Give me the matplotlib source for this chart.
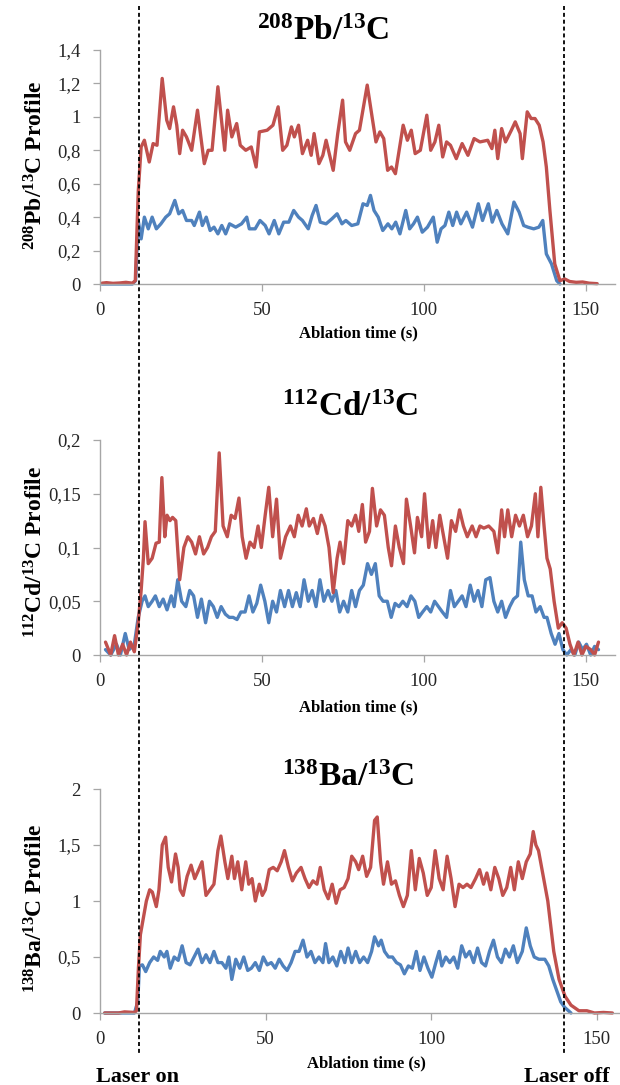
import matplotlib
matplotlib.use('Agg')
import matplotlib.pyplot as plt
from matplotlib.lines import Line2D

plt.rcParams['font.family'] = ['Liberation Serif', 'DejaVu Serif']
plt.rcParams['mathtext.fontset'] = 'custom'
plt.rcParams['mathtext.rm'] = 'Liberation Serif:bold'
plt.rcParams['mathtext.it'] = 'Liberation Serif:italic:bold'
plt.rcParams['mathtext.bf'] = 'Liberation Serif:bold'

# ---------------- data (time s, ratio) ----------------
pb_red = [(0.6,0.005),(2,0.008),(4,0.004),(6,0.006),(8,0.01),(10,0.005),(10.9,0.02),(11.8,0.55),(12.7,0.82),
          (13.7,0.86),(15.2,0.73),(16.4,0.84),(17.6,0.83),(19.2,1.23),(20.6,0.98),(21.5,0.93),(22.7,1.06),
          (23.7,0.95),(24.6,0.78),(25.5,0.92),(26.7,0.88),(28.3,0.80),(30.1,1.04),(31.0,0.90),(32.2,0.72),
          (33.4,0.80),(34.6,0.80),(36.4,1.18),(37.4,1.00),(38.5,0.80),(39.4,1.04),(40.7,0.88),(42.2,0.96),
          (43.3,0.83),(45.0,0.80),(46.7,0.82),(48.2,0.70),(49.2,0.91),(51.6,0.92),(53.4,0.95),(55.0,1.06),
          (56.4,0.80),(57.7,0.83),(59.1,0.94),(60.0,0.88),(61.3,0.95),(62.5,0.78),(64.1,0.86),(65.2,0.77),
          (66.1,0.90),(67.6,0.72),(68.8,0.77),(69.8,0.86),(72.0,0.68),(73.4,0.90),(74.9,1.10),(75.8,0.85),
          (77.1,0.80),(78.9,0.90),(80.1,0.92),(82.5,1.19),(84.0,1.00),(85.2,0.85),(86.4,0.91),(87.6,0.87),
          (88.8,0.68),(90.0,0.70),(91.2,0.66),(93.6,0.95),(94.9,0.86),(96.1,0.92),(97.3,0.78),(98.9,0.80),
          (100.9,1.01),(102.1,0.80),(103.4,0.85),(104.6,0.95),(105.8,0.76),(107.0,0.85),(108.2,0.83),
          (110.0,0.75),(111.8,0.84),(113.6,0.77),(115.5,0.87),(117.3,0.85),(119.7,0.86),(121.0,0.81),
          (121.9,0.92),(122.8,0.75),(124.0,0.93),(125.2,0.85),(127.0,0.92),(128.2,0.97),(129.7,0.90),
          (130.4,0.75),(131.9,1.03),(133.1,0.99),(134.3,0.99),(135.6,0.95),(136.8,0.85),(137.8,0.70),
          (138.9,0.44),(140.4,0.12),(142.0,0.02),(143.5,0.03),(145,0.015),(147,0.01),(149,0.012),
          (151,0.005),(153.5,0.002)]
pb_blue = [(0.6,0.0),(5,0.0),(10,0.0),(11.0,0.02),(11.8,0.38),(12.7,0.27),(13.7,0.40),(14.9,0.33),(16.1,0.40),
           (17.4,0.33),(18.8,0.36),(20.3,0.40),(21.5,0.42),(23.1,0.50),(24.3,0.42),(25.5,0.44),(26.7,0.38),
           (28.3,0.38),(29.1,0.35),(30.7,0.43),(31.6,0.35),(32.8,0.40),(34.0,0.32),(35.2,0.34),(36.4,0.30),
           (37.6,0.35),(38.8,0.30),(40.0,0.36),(41.9,0.34),(43.7,0.36),(45.3,0.40),(46.1,0.33),(47.9,0.33),
           (49.4,0.38),(51.0,0.35),(52.2,0.30),(53.8,0.38),(55.2,0.30),(56.7,0.37),(58.3,0.37),(59.8,0.44),
           (61.3,0.40),(62.5,0.38),(64.3,0.33),(65.5,0.41),(66.7,0.47),(68.0,0.37),(69.8,0.36),(71.6,0.39),
           (73.2,0.42),(74.7,0.36),(75.9,0.38),(77.7,0.35),(79.6,0.36),(81.2,0.48),(82.5,0.47),(83.5,0.53),
           (84.6,0.44),(85.9,0.40),(87.3,0.32),(88.9,0.36),(90.1,0.33),(91.3,0.37),(92.6,0.30),(94.4,0.44),
           (95.6,0.33),(96.8,0.36),(98.0,0.40),(99.5,0.31),(101.1,0.34),(102.9,0.40),(104.1,0.25),(105.3,0.33),
           (106.5,0.35),(107.7,0.43),(108.9,0.35),(110.1,0.43),(111.4,0.36),(113.2,0.43),(115.0,0.34),
           (116.8,0.48),(118.1,0.38),(119.9,0.48),(121.1,0.37),(122.5,0.44),(124.1,0.36),(125.9,0.30),
           (127.8,0.49),(129.4,0.43),(130.8,0.35),(132.1,0.34),(133.9,0.33),(135.5,0.34),(136.7,0.38),
           (137.8,0.18),(138.6,0.15),(139.4,0.12),(141.0,0.02),(142.0,0.0)]

cd_red = [(1.7,0.012),(3.3,0.0),(4.5,0.018),(5.7,0.0),(7.0,0.01),(8.2,0.0),(9.4,0.012),(10.6,0.003),(11.8,0.03),
          (12.7,0.06),(13.4,0.09),(13.9,0.124),(14.9,0.085),(16.1,0.09),(17.3,0.104),(18.3,0.105),(19.1,0.165),
          (20.0,0.11),(20.7,0.13),(21.6,0.125),(22.4,0.128),(23.4,0.125),(24.6,0.07),(25.9,0.10),(27.1,0.11),
          (28.3,0.105),(29.5,0.094),(30.7,0.11),(32.0,0.094),(33.2,0.10),(34.4,0.11),(35.6,0.115),(36.8,0.188),
          (38.0,0.12),(39.3,0.11),(40.5,0.13),(41.7,0.127),(42.9,0.146),(43.9,0.11),(45.1,0.09),(46.3,0.105),
          (47.6,0.10),(48.8,0.12),(49.8,0.10),(51.0,0.13),(52.1,0.156),(53.3,0.11),(54.5,0.145),(55.7,0.09),
          (57.3,0.11),(58.8,0.12),(60.0,0.11),(61.2,0.13),(62.4,0.12),(63.7,0.136),(64.6,0.12),(65.9,0.127),
          (67.1,0.113),(68.3,0.13),(69.5,0.12),(70.7,0.10),(72.0,0.058),(73.2,0.09),(74.1,0.105),(75.2,0.085),
          (76.5,0.125),(77.7,0.12),(78.9,0.13),(79.9,0.115),(81.0,0.14),(82.0,0.105),(83.2,0.115),(84.1,0.155),
          (85.4,0.12),(86.6,0.135),(87.8,0.13),(89.0,0.10),(90.0,0.083),(91.2,0.12),(92.4,0.10),(93.7,0.085),
          (94.6,0.145),(95.9,0.12),(97.1,0.095),(98.0,0.128),(99.3,0.11),(100.2,0.15),(101.5,0.10),(102.7,0.125),
          (103.7,0.10),(104.9,0.13),(106.1,0.11),(107.3,0.09),(108.5,0.125),(109.8,0.115),(111.0,0.135),
          (112.2,0.12),(113.4,0.11),(114.9,0.12),(116.1,0.11),(117.3,0.12),(118.5,0.118),(120.0,0.12),
          (121.6,0.115),(122.8,0.095),(124.0,0.135),(124.9,0.11),(125.9,0.135),(127.1,0.11),(128.3,0.13),
          (129.5,0.12),(130.7,0.13),(132.0,0.11),(133.2,0.12),(134.4,0.15),(135.2,0.11),(136.1,0.156),
          (137.1,0.12),(138.0,0.09),(139.0,0.08),(140.2,0.05),(141.5,0.025),(142.7,0.03),(143.9,0.025),
          (145.1,0.01),(146.3,0.0),(147.6,0.012),(148.8,0.0),(150.0,0.008),(151.5,0.005),(152.7,0.0),(153.9,0.012)]
cd_blue = [(1.7,0.005),(3.3,0.0),(5.1,0.01),(6.3,0.0),(7.8,0.02),(9.0,0.005),(10.6,0.01),(11.8,0.035),(13.0,0.05),
           (13.9,0.055),(14.9,0.045),(16.1,0.05),(17.1,0.055),(18.3,0.045),(19.5,0.052),(20.7,0.042),(22.0,0.055),
           (22.9,0.045),(24.0,0.07),(25.2,0.05),(26.5,0.045),(27.7,0.06),(28.9,0.055),(30.1,0.035),(31.3,0.052),
           (32.6,0.03),(33.8,0.05),(35.0,0.045),(36.2,0.035),(37.4,0.045),(38.7,0.038),(39.9,0.035),(41.1,0.035),
           (42.3,0.033),(43.5,0.04),(44.8,0.04),(46.0,0.055),(47.2,0.04),(48.4,0.048),(49.6,0.065),(50.9,0.05),
           (52.1,0.03),(53.3,0.05),(54.5,0.04),(55.7,0.06),(57.0,0.045),(58.2,0.06),(59.4,0.045),(60.6,0.058),
           (61.8,0.045),(63.0,0.07),(64.3,0.05),(65.5,0.06),(66.7,0.045),(67.9,0.07),(69.1,0.05),(70.4,0.06),
           (71.6,0.05),(72.8,0.06),(74.0,0.04),(75.2,0.05),(76.5,0.04),(77.7,0.06),(78.9,0.045),(80.1,0.06),
           (81.3,0.065),(82.6,0.085),(83.8,0.075),(85.0,0.085),(86.2,0.055),(87.4,0.05),(88.7,0.05),(89.9,0.035),
           (91.1,0.048),(92.3,0.045),(93.5,0.05),(94.8,0.045),(96.0,0.055),(97.2,0.05),(98.4,0.035),(99.6,0.04),
           (100.9,0.045),(102.1,0.04),(103.3,0.05),(104.5,0.045),(105.7,0.04),(107.0,0.035),(108.2,0.06),
           (109.4,0.045),(110.6,0.05),(111.8,0.055),(113.0,0.045),(114.3,0.065),(115.5,0.05),(116.7,0.06),
           (117.9,0.045),(119.1,0.07),(120.4,0.072),(121.6,0.05),(122.8,0.04),(124.0,0.05),(125.2,0.035),
           (126.5,0.045),(127.7,0.052),(128.9,0.055),(129.9,0.105),(131.0,0.07),(132.2,0.055),(133.4,0.055),
           (134.6,0.04),(135.9,0.045),(137.1,0.035),(138.0,0.035),(139.3,0.02),(140.5,0.01),(141.7,0.02),
           (142.9,0.005),(144.1,0.0),(145.4,0.005),(146.6,0.0),(147.8,0.012),(149.0,0.005),(150.2,0.01),
           (151.5,0.0),(152.7,0.008),(153.9,0.005)]

ba_red = [(1.4,0.0),(5.6,0.0),(7.4,0.01),(10.4,0.005),(11.0,0.02),(11.6,0.4),(12.2,0.7),(13.1,0.85),(14.0,1.0),
          (15.0,1.1),(15.8,1.08),(17.0,0.95),(17.8,1.1),(18.8,1.5),(19.8,1.57),(20.6,1.3),(21.6,1.17),(22.8,1.42),
          (23.6,1.3),(24.2,1.1),(25.1,1.05),(26.3,1.22),(27.5,1.32),(28.6,1.2),(29.8,1.28),(30.8,1.35),(32.0,1.05),
          (33.2,1.1),(34.4,1.15),(35.6,1.45),(36.5,1.58),(37.7,1.35),(38.6,1.2),(39.8,1.4),(40.6,1.2),(41.6,1.35),
          (42.8,1.1),(44.0,1.35),(44.9,1.15),(45.9,1.2),(46.9,1.0),(48.1,1.15),(49.0,1.05),(49.9,1.1),(51.1,1.28),
          (52.3,1.3),(53.5,1.27),(54.7,1.35),(55.7,1.45),(56.9,1.3),(58.1,1.18),(59.3,1.25),(60.7,1.3),(61.9,1.2),
          (63.1,1.12),(64.3,1.18),(65.5,1.15),(66.5,1.3),(67.7,1.1),(68.9,1.02),(70.1,1.15),(71.3,0.98),(72.5,1.1),
          (73.7,1.12),(74.9,1.2),(76.0,1.4),(77.2,1.35),(78.1,1.28),(79.3,1.4),(80.5,1.22),(81.7,1.3),(82.9,1.72),
          (83.7,1.75),(84.7,1.35),(85.6,1.15),(86.8,1.35),(88.0,1.15),(89.2,1.18),(90.4,1.05),(91.6,0.95),
          (92.8,1.05),(94.0,1.45),(95.2,1.1),(96.4,1.38),(97.6,1.25),(98.8,1.05),(100.0,1.12),(101.2,1.45),
          (102.4,1.2),(103.6,1.1),(104.8,1.4),(106.0,1.2),(107.2,0.95),(108.4,1.15),(109.6,1.12),(110.8,1.15),
          (112.0,1.12),(113.4,1.2),(114.6,1.28),(115.8,1.15),(116.8,1.25),(118.0,1.1),(119.2,1.3),(120.4,1.2),
          (121.6,1.05),(122.8,1.12),(124.0,1.3),(125.1,1.1),(126.3,1.35),(127.5,1.2),(128.7,1.35),(129.9,1.42),
          (130.8,1.62),(131.6,1.5),(132.4,1.45),(135.2,1.0),(137.0,0.55),(138.6,0.3),(140.4,0.15),(142.2,0.07),
          (144.6,0.02),(147.0,0.02),(149.3,0.0),(152.0,0.005),(154.7,0.0)]
ba_blue = [(1.4,0.0),(10.4,0.0),(11.4,0.1),(11.9,0.42),(12.8,0.43),(13.8,0.37),(15.0,0.45),(16.2,0.5),(17.4,0.47),
           (18.2,0.55),(19.4,0.5),(20.2,0.55),(21.2,0.4),(22.4,0.5),(23.6,0.47),(24.8,0.6),(26.0,0.45),(27.2,0.43),
           (28.4,0.5),(29.6,0.57),(30.8,0.45),(32.0,0.52),(33.2,0.45),(34.4,0.55),(35.6,0.45),(36.8,0.45),(38.0,0.4),
           (38.9,0.5),(39.8,0.3),(41.0,0.48),(42.2,0.4),(43.4,0.5),(44.6,0.38),(45.7,0.4),(46.9,0.45),(48.1,0.38),
           (49.3,0.5),(50.5,0.43),(51.7,0.45),(52.9,0.4),(54.1,0.48),(55.3,0.42),(56.5,0.38),(57.7,0.45),(58.9,0.55),
           (60.1,0.55),(61.3,0.65),(62.5,0.5),(63.7,0.55),(64.9,0.45),(66.1,0.5),(67.3,0.45),(68.1,0.62),(69.1,0.45),
           (70.3,0.5),(71.5,0.42),(72.7,0.55),(73.9,0.45),(74.9,0.58),(76.0,0.45),(77.2,0.55),(78.4,0.45),(79.6,0.5),
           (80.8,0.45),(82.0,0.55),(82.9,0.68),(84.1,0.6),(84.9,0.65),(85.9,0.55),(87.1,0.5),(88.3,0.5),(89.5,0.45),
           (90.7,0.43),(91.9,0.35),(93.1,0.42),(94.3,0.4),(95.5,0.55),(96.6,0.38),(97.8,0.5),(99.0,0.4),(100.2,0.32),
           (101.4,0.45),(102.4,0.55),(103.2,0.42),(104.4,0.5),(105.6,0.45),(106.8,0.5),(108.0,0.4),(109.2,0.6),
           (110.4,0.5),(111.6,0.55),(112.8,0.45),(114.0,0.58),(115.2,0.45),(116.4,0.42),(117.6,0.55),(118.8,0.65),
           (120.0,0.5),(121.2,0.45),(122.4,0.57),(123.6,0.5),(124.8,0.6),(126.0,0.45),(127.5,0.55),(128.7,0.76),
           (129.9,0.6),(131.1,0.5),(132.5,0.48),(134.3,0.48),(135.5,0.42),(136.7,0.3),(137.9,0.2),(139.1,0.1),
           (140.3,0.05),(142.2,0.0)]

pb_yticks = [0, 0.2, 0.4, 0.6, 0.8, 1.0, 1.2, 1.4]
pb_ylabels = ['0', '0,2', '0,4', '0,6', '0,8', '1', '1,2', '1,4']
cd_yticks = [0, 0.05, 0.1, 0.15, 0.2]
cd_ylabels = ['0', '0,05', '0,1', '0,15', '0,2']
ba_yticks = [0, 0.5, 1.0, 1.5, 2.0]
ba_ylabels = ['0', '0,5', '1', '1,5', '2']
xticks = [0, 50, 100, 150]
xlabels = ['0', '50', '100', '150']

titles = [r'$^{208}$Pb/$^{13}$C', r'$^{112}$Cd/$^{13}$C', r'$^{138}$Ba/$^{13}$C']
ylabels = [r'$^{208}$Pb/$^{13}$C Profile', r'$^{112}$Cd/$^{13}$C Profile', r'$^{138}$Ba/$^{13}$C Profile']
xlabel = 'Ablation time (s)'

# ---------------- layout ----------------
W, H = 620, 1085
fig = plt.figure(figsize=(W / 100, H / 100), dpi=100)


def box(l, r, t, b):
    return [l / W, 1 - b / H, (r - l) / W, (b - t) / H]


RED = '#C0504D'
BLUE = '#4F81BD'
GRAY = '#A6A6A6'

panels = [
    dict(rect=box(100, 615, 50, 284), xmax=159, data=(pb_red, pb_blue), yt=pb_yticks, yl=pb_ylabels,
         title_xy=(323, 32), ylab_xy=(36, 165), xlab_xy=(358, 333)),
    dict(rect=box(100, 615, 440, 655), xmax=159, data=(cd_red, cd_blue), yt=cd_yticks, yl=cd_ylabels,
         title_xy=(350, 408), ylab_xy=(36, 552), xlab_xy=(358, 707)),
    dict(rect=box(100, 620, 789, 1013), xmax=157, data=(ba_red, ba_blue), yt=ba_yticks, yl=ba_ylabels,
         title_xy=(348, 777), ylab_xy=(36, 908), xlab_xy=(366, 1063)),
]

for i, p in enumerate(panels):
    ax = fig.add_axes(p['rect'])
    red, blue = p['data']
    for series, c in ((blue, BLUE), (red, RED)):
        t = [a for a, _ in series]
        v = [b for _, b in series]
        ax.plot(t, v, color=c, lw=2.4, clip_on=False, solid_joinstyle='round', solid_capstyle='round')
    ax.set_xlim(0, p['xmax'])
    ax.set_ylim(p['yt'][0], p['yt'][-1])
    ax.set_xticks(xticks)
    ax.set_xticklabels(xlabels)
    ax.set_yticks(p['yt'])
    ax.set_yticklabels(p['yl'])
    for s in ('top', 'right'):
        ax.spines[s].set_visible(False)
    for s in ('left', 'bottom'):
        ax.spines[s].set_color(GRAY)
        ax.spines[s].set_linewidth(1.0)
    ax.tick_params(axis='both', direction='out', length=5, width=0.9, color=GRAY,
                   labelsize=13.5, labelcolor='#262626')
    ax.tick_params(axis='y', pad=9)
    ax.tick_params(axis='x', pad=8)
    ax.set_zorder(1)
    ax.patch.set_alpha(0)
    tx, ty = p['title_xy']
    fig.text(tx / W, 1 - ty / H, titles[i], ha='center', va='center', fontsize=24, fontweight='bold')
    yx, yy = p['ylab_xy']
    fig.text(yx / W, 1 - yy / H, ylabels[i], ha='center', va='center', rotation=90,
             fontsize=17, fontweight='bold')
    lx, ly = p['xlab_xy']
    fig.text(lx / W, 1 - ly / H, xlabel, ha='center', va='center', fontsize=12, fontweight='bold')

# laser on/off dashed markers across the figure
for xpx in (139, 564):
    fig.add_artist(Line2D([xpx / W, xpx / W], [1 - 6 / H, 1 - 1053 / H], transform=fig.transFigure,
                          color='black', lw=1.3, linestyle=(0, (2.2, 1.6)), zorder=5))

fig.text(138 / W, 1 - 1077 / H, 'Laser on', ha='center', va='center', fontsize=16, fontweight='bold')
fig.text(567 / W, 1 - 1077 / H, 'Laser off', ha='center', va='center', fontsize=16, fontweight='bold')

fig.savefig('out.png', dpi=100)
